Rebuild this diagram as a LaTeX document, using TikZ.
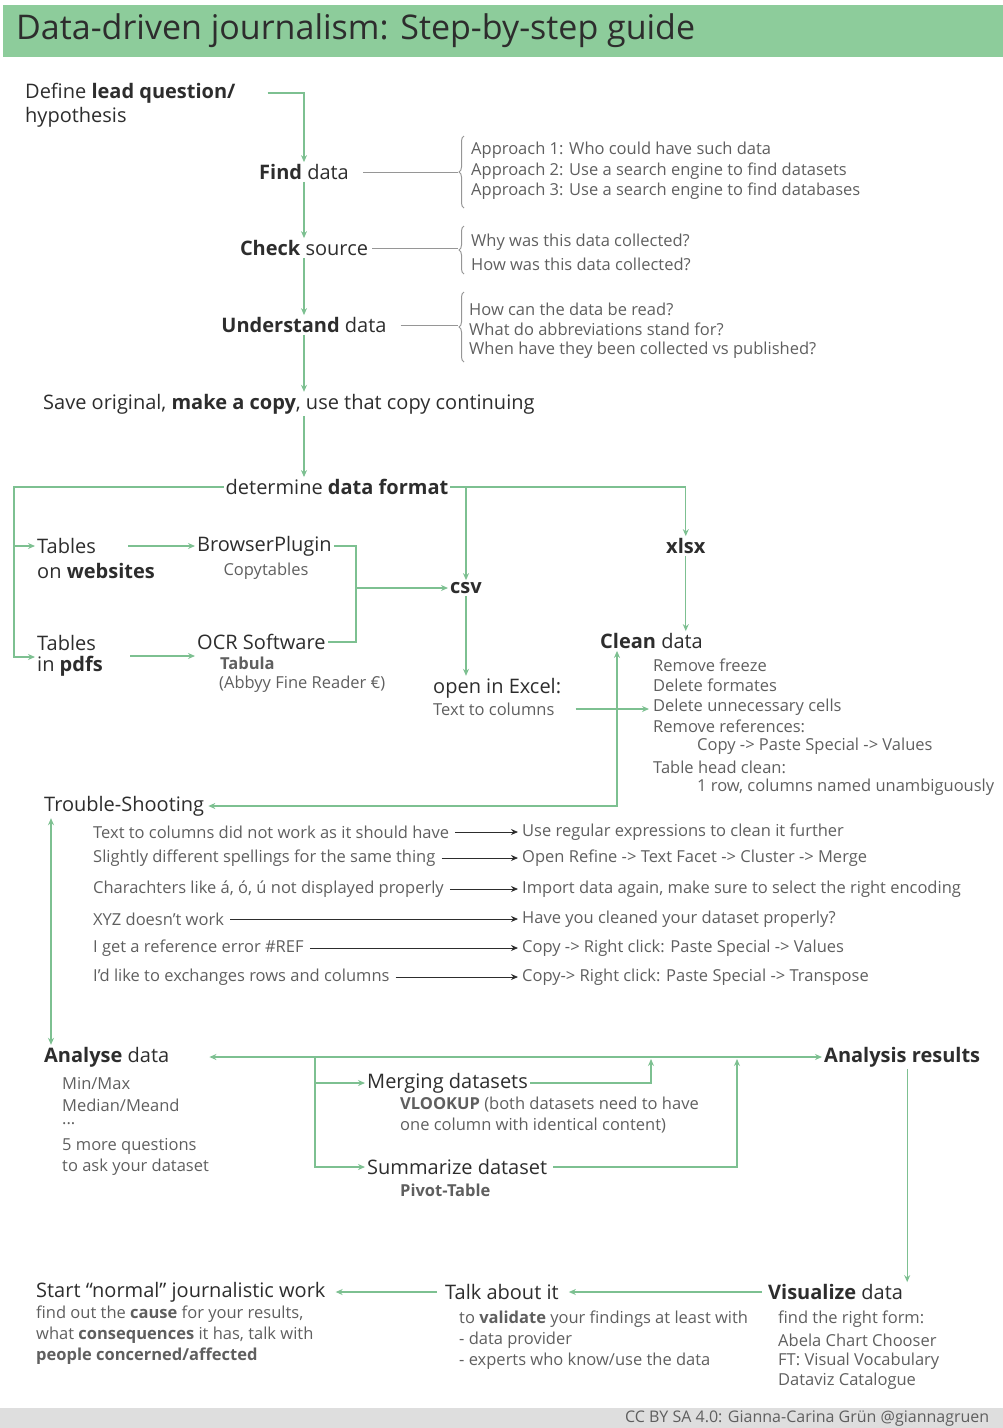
\documentclass[tikz,border=0pt]{standalone}
\usepackage{fontspec}
\setmainfont{Open Sans}
\usetikzlibrary{arrows.meta,decorations.pathreplacing}
\definecolor{headgreen}{RGB}{141,204,155}
\definecolor{linegreen}{RGB}{125,192,145}
\definecolor{textdark}{RGB}{45,45,45}
\definecolor{textgrey}{RGB}{95,95,95}
\definecolor{bracegrey}{RGB}{150,150,150}
\definecolor{footgrey}{RGB}{222,222,222}

\tikzset{
  main/.style={font=\fontsize{20}{23}\selectfont, text=textdark, inner sep=2pt},
  small/.style={font=\fontsize{16.5}{19}\selectfont, text=textgrey, inner sep=1pt, anchor=west},
  flow/.style={draw=linegreen, line width=1.1pt},
  arr/.style={flow, -{Stealth[length=7pt,width=6pt]}},
  both/.style={flow, {Stealth[length=7pt,width=6pt]}-{Stealth[length=7pt,width=6pt]}},
  greyline/.style={draw=bracegrey, line width=1pt},
  curly/.style={greyline, decorate, decoration={brace,amplitude=5pt}},
}

\begin{document}
\begin{tikzpicture}[x=1pt,y=-1pt]
\useasboundingbox (0,0) rectangle (1003,1428);

% header and footer
\fill[headgreen] (3,5) rectangle (1003,57);
\node[anchor=west, font=\fontsize{34}{38}\selectfont, text=textdark, inner sep=0pt] (title) at (16,31) {Data-driven journalism: Step-by-step guide};
\fill[footgrey] (0,1408) rectangle (1003,1428);
\node[anchor=west, font=\fontsize{16}{18}\selectfont, text=textgrey, inner sep=0pt] (credit) at (625,1419) {CC BY SA 4.0: Gianna-Carina Grün @giannagruen};

% first steps
\node[main, anchor=west] (define1) at (23,93) {Define \textbf{lead question/}};
\node[main, anchor=west] (define2) at (23,117) {hypothesis};
\node[main] (find) at (304,172) {\textbf{Find} data};
\node[main] (check) at (304,248) {\textbf{Check} source};
\node[main] (understand) at (304,325) {\textbf{Understand} data};
\node[main, anchor=west] (save) at (41,404) {Save original, \textbf{make a copy}, use that copy continuing};
\node[main] (determine) at (337,487) {determine \textbf{data format}};

\draw[arr] ([xshift=30pt]define1.east) -| (find.north);
\draw[arr] (find.south) -- (check.north);
\draw[arr] (check.south) -- (understand.north);
\draw[arr] (understand.south) -- (understand.south |- save.north);
\draw[arr] (save.south -| find.south) -- (determine.north -| find.south);

% braces
\coordinate (fbr) at (458,172);
\coordinate (cbr) at (458,250);
\coordinate (ubr) at (458,327);
\draw[curly] (464,208) -- (464,136);
\draw[curly] (464,274) -- (464,226);
\draw[curly] (464,362) -- (464,292);
\draw[greyline] ([xshift=12pt]find.east) -- (fbr);
\draw[greyline] ([xshift=2pt]check.east) -- (check.east -| cbr);
\draw[greyline] ([xshift=12pt]understand.east) -- (understand.east -| ubr);

\foreach \y/\t [count=\i] in {150/{Approach 1: Who could have such data},
  171/{Approach 2: Use a search engine to find datasets},
  191/{Approach 3: Use a search engine to find databases}}
  \node[small] (ap\i) at (470,\y) {\t};
\foreach \y/\t [count=\i] in {242/{Why was this data collected?},
  264/{How was this data collected?}}
  \node[small] (cq\i) at (470,\y) {\t};
\foreach \y/\t [count=\i] in {309/{How can the data be read?},
  329/{What do abbreviations stand for?},
  350/{When have they been collected vs published?}}
  \node[small] (uq\i) at (468,\y) {\t};

% data formats
\node[main, anchor=west] (web1) at (35,546) {Tables};
\node[main, anchor=west] (web2) at (35,571) {on \textbf{websites}};
\node[main, anchor=west] (pdf1) at (35,643) {Tables};
\node[main, anchor=west] (pdf2) at (35,666) {in \textbf{pdfs}};
\node[main, anchor=west] (plugin) at (195,546) {BrowserPlugin};
\node[small, anchor=center] (plugin2) at (266,571) {Copytables};
\node[main, anchor=west] (ocr) at (195,642) {OCR Software};
\node[small] (ocr2) at (219,663) {\textbf{Tabula}};
\node[small] (ocr3) at (218,684) {(Abbyy Fine Reader €)};
\node[main, anchor=west] (csv) at (448,588) {\textbf{csv}};
\node[main, anchor=west] (xlsx) at (664,546) {\textbf{xlsx}};
\node[main, anchor=west] (excel) at (431,688) {open in Excel:};
\node[small] (excel2) at (432,709) {Text to columns};
\node[main, anchor=west] (clean) at (598,641) {\textbf{Clean} data};

\coordinate (lt) at (14,487);
\coordinate (lb) at (14,657);
\coordinate (pdfout) at (130,656);
\coordinate (join) at (356,588);
\draw[arr] (determine.west) -| (lb) -- (lb -| pdf1.west);
\draw[arr] (lt |- web1) -- (web1.west);
\draw[arr] ([xshift=30pt]web1.east) -- (plugin.west);
\draw[arr] (pdfout) -- (pdfout -| ocr.west);
\draw[flow] (plugin.east) -| (join) |- (ocr.east);
\draw[arr] (join) -- (join -| csv.west);
\draw[arr] (determine.east) -| (xlsx.north);
\draw[arr] (determine.east -| csv.north) -- (csv.north);
\draw[arr] (csv.south) -- (csv.south |- excel.north);
\draw[arr] (xlsx.south) -- (xlsx.south |- clean.north);

\foreach \x/\y/\t [count=\i] in {652/665/{Remove freeze}, 652/685/{Delete formates},
  652/707/{Delete unnecessary cells}, 652/726/{Remove references:},
  696/746/{Copy -> Paste Special -> Values}, 652/767/{Table head clean:},
  696/787/{1 row, columns named unambiguously}}
  \node[small] (cl\i) at (\x,\y) {\t};
\draw[arr] ([xshift=20pt]excel2.east) -- ([xshift=-3pt]excel2.east -| cl3.west);

% trouble shooting
\node[main, anchor=west] (trouble) at (42,806) {Trouble-Shooting};
\coordinate (tc) at (617,806);
\draw[both] ([xshift=2pt]trouble.east) -- (tc) -- (tc |- clean.south);

\foreach \y/\l/\r [count=\i] in {832/{Text to columns did not work as it should have}/{Use regular expressions to clean it further},
  858/{Slightly different spellings for the same thing}/{Open Refine -> Text Facet -> Cluster -> Merge},
  889/{Charachters like á, ó, ú not displayed properly}/{Import data again, make sure to select the right encoding},
  919/{XYZ doesn't work}/{Have you cleaned your dataset properly?},
  948/{I get a reference error \#REF}/{Copy -> Right click: Paste Special -> Values},
  977/{I'd like to exchanges rows and columns}/{Copy-> Right click: Paste Special  -> Transpose}}
{
  \node[small] (tl\i) at (92,\y) {\l};
  \node[small] (tr\i) at (521,\y) {\r};
  \draw[arr, line width=0.8pt, draw=textdark] ([xshift=5pt]tl\i.east) -- ([xshift=-3pt]tr\i.west);
}

% analysis
\node[main, anchor=west] (analyse) at (42,1057) {\textbf{Analyse} data};
\node[main, anchor=west] (results) at (822,1057) {\textbf{Analysis results}};
\node[main, anchor=west] (merge) at (365,1083) {Merging datasets};
\node[small] (merge2) at (399,1105) {\textbf{VLOOKUP} (both datasets need to have};
\node[small] (merge3) at (399,1126) {one column with identical content)};
\node[main, anchor=west] (sum) at (365,1167) {Summarize dataset};
\node[small] (sum2) at (399,1190) {\textbf{Pivot-Table}};
\foreach \y/\t [count=\i] in {1084/{Min/Max}, 1105/{Median/Meand}, 1124/{...},
  1146/{5 more questions}, 1167/{to ask your dataset}}
  \node[small] (an\i) at (61,\y) {\t};

\draw[both] ([xshift=38pt]analyse.east) -- (results.west);
\draw[both] ([xshift=9pt]trouble.south west) -- ([xshift=9pt]analyse.north west);
\coordinate (br) at (315,1057);
\coordinate (mup) at (651,1059);
\coordinate (sumup) at (737,1059);
\draw[arr] (br) |- (sum.west);
\draw[arr] (br |- merge) -- (merge.west);
\draw[arr] (merge.east) -| (mup);
\draw[arr] ([xshift=4pt]sum.east) -| (sumup);

% last steps
\node[main, anchor=west] (visualize) at (766,1292) {\textbf{Visualize} data};
\node[main, anchor=west] (talk) at (443,1292) {Talk about it};
\node[main, anchor=west] (start) at (34,1292) {Start “normal” journalistic work};
\draw[arr] ([xshift=5pt]results.south) -- ([xshift=5pt]results.south |- visualize.north);
\draw[arr] ([xshift=-4pt]visualize.west) -- ([xshift=8pt]talk.east);
\draw[arr] ([xshift=-6pt]talk.west) -- ([xshift=8pt]start.east);

\foreach \y/\t [count=\i] in {1314/{find out the \textbf{cause} for your results,},
  1335/{what \textbf{consequences} it has, talk with}, 1356/{\textbf{people concerned/affected}}}
  \node[small] (st\i) at (35,\y) {\t};
\foreach \y/\t [count=\i] in {1319/{to \textbf{validate} your findings at least with},
  1340/{- data provider}, 1361/{- experts who know/use the data}}
  \node[small] (tk\i) at (458,\y) {\t};
\foreach \y/\t [count=\i] in {1319/{find the right form:}, 1340/{Abela Chart Chooser},
  1361/{FT: Visual Vocabulary}, 1381/{Dataviz Catalogue}}
  \node[small] (vz\i) at (777,\y) {\t};
\end{tikzpicture}
\end{document}
